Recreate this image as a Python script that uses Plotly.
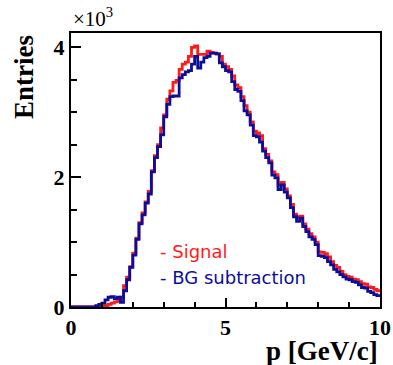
import numpy as np
import plotly.graph_objects as go

# bin edges 0..10 GeV/c, 100 bins of 0.1
bin_lo = 0.0
bin_width = 0.1
signal = [0, 0, 0, 0, 0, 0, 0, 0, 0, 5,
          10, 20, 40, 60, 80, 100, 150, 330, 460, 620,
          830, 1060, 1300, 1450, 1620, 1780, 2100, 2330, 2500, 2760,
          2960, 3200, 3330, 3460, 3490, 3660, 3740, 3770, 3860, 4000,
          4020, 3890, 3890, 3890, 3940, 3920, 3910, 3900, 3860, 3740,
          3700, 3660, 3560, 3420, 3380, 3240, 3100, 3000, 2850, 2710,
          2680, 2640, 2440, 2350, 2250, 2080, 2040, 1880, 1920, 1820,
          1710, 1580, 1430, 1380, 1400, 1280, 1200, 1130, 1080, 1000,
          850, 840, 820, 770, 700, 640, 610, 550, 500, 470,
          460, 430, 420, 390, 360, 350, 310, 300, 270, 250]
bg_sub = [0, 0, 0, 0, 0, 0, 0, 0, 20, 40,
          60, 110, 150, 160, 130, 150, 70, 250, 420, 610,
          800, 1040, 1280, 1420, 1600, 1740, 2080, 2300, 2470, 2650,
          2930, 3120, 3240, 3250, 3250, 3530, 3580, 3620, 3640, 3740,
          3860, 3680, 3770, 3840, 3860, 3910, 3910, 3900, 3760, 3700,
          3640, 3620, 3470, 3350, 3320, 3180, 3020, 2960, 2800, 2640,
          2620, 2540, 2400, 2300, 2220, 2030, 1990, 1810, 1880, 1770,
          1680, 1530, 1390, 1320, 1370, 1240, 1160, 1080, 1040, 960,
          790, 780, 760, 700, 650, 580, 540, 500, 465, 430,
          420, 390, 380, 340, 300, 290, 240, 220, 190, 175]

x_ticks = [0, 5, 10]
y_ticks = [0, 2, 4]
legend_labels = ["- Signal", "- BG subtraction"]

def step_xy(vals):
    n = len(vals)
    edges = bin_lo + bin_width * np.arange(n + 1)
    y = np.append(np.array(vals, dtype=float) / 1000.0, vals[-1] / 1000.0)
    return edges, y

RED = "#ff1a1a"
BLUE = "#0d0d99"

fig = go.Figure()
xs, ys = step_xy(signal)
fig.add_trace(go.Scatter(x=xs, y=ys, mode="lines", line=dict(color=RED, width=2.8, shape="hv"),
                         showlegend=False, hoverinfo="skip"))
xb, yb = step_xy(bg_sub)
fig.add_trace(go.Scatter(x=xb, y=yb, mode="lines", line=dict(color=BLUE, width=2.8, shape="hv"),
                         showlegend=False, hoverinfo="skip"))

serif = "Liberation Serif"
fig.update_layout(
    width=393, height=365,
    margin=dict(l=71, r=13, t=33, b=58),
    paper_bgcolor="white", plot_bgcolor="white",
    xaxis=dict(range=[0, 10], tickvals=x_ticks,
               ticktext=["<b>%d</b>" % v for v in x_ticks],
               ticks="inside", ticklen=9, tickwidth=2, tickcolor="black",
               minor=dict(dtick=1, ticks="inside", ticklen=5, tickwidth=2, tickcolor="black"),
               showline=True, linewidth=2, linecolor="black", mirror=True,
               showgrid=False, zeroline=False, automargin=False,
               tickfont=dict(family=serif, size=22, color="black")),
    yaxis=dict(range=[0, 4.22], tickvals=y_ticks,
               ticktext=["<b>%d</b>" % v for v in y_ticks],
               ticks="inside", ticklen=10, tickwidth=2, tickcolor="black",
               minor=dict(dtick=0.5, ticks="inside", ticklen=6, tickwidth=2, tickcolor="black"),
               showline=True, linewidth=2, linecolor="black", mirror=True,
               showgrid=False, zeroline=False, automargin=False,
               tickfont=dict(family=serif, size=22, color="black")),
    annotations=[
        dict(text="<b>Entries</b>", xref="paper", yref="paper", x=-0.152, y=1.0,
             xanchor="center", yanchor="top", textangle=-90, showarrow=False,
             font=dict(family=serif, size=27, color="black")),
        dict(text="<b>p [GeV/c]</b>", xref="paper", yref="paper", x=1.0, y=-0.098,
             xanchor="right", yanchor="top", showarrow=False,
             font=dict(family=serif, size=27, color="black")),
        dict(text="×10<sup>3</sup>", xref="paper", yref="paper", x=0.0, y=1.0,
             xanchor="left", yanchor="bottom", showarrow=False,
             font=dict(family=serif, size=21, color="black")),
        dict(text=legend_labels[0], xref="paper", yref="paper", x=0.28, y=0.204,
             xanchor="left", yanchor="middle", showarrow=False,
             font=dict(family="DejaVu Sans", size=18, color=RED)),
        dict(text=legend_labels[1], xref="paper", yref="paper", x=0.28, y=0.106,
             xanchor="left", yanchor="middle", showarrow=False,
             font=dict(family="DejaVu Sans", size=18, color=BLUE)),
    ],
)

fig.write_html("out.html")
